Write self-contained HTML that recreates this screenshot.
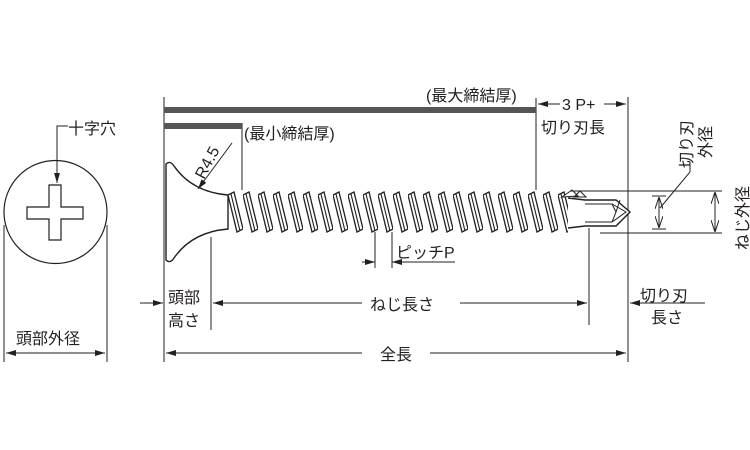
<!DOCTYPE html>
<html><head><meta charset="utf-8"><style>
html,body{margin:0;padding:0;background:#fff;}
svg{display:block;}
text{font-family:"Liberation Sans","Noto Sans CJK JP",sans-serif;fill:#231f20;font-size:16px;}
</style></head><body>
<svg width="750" height="450" viewBox="0 0 750 450" xmlns="http://www.w3.org/2000/svg">
<defs>
<marker id="a" viewBox="0 0 10 6" refX="10" refY="3" markerWidth="10" markerHeight="6" markerUnits="userSpaceOnUse" orient="auto"><path d="M0,0 L10,3 L0,6 z" fill="#231f20"/></marker>
<marker id="b" viewBox="0 0 12 8" refX="12" refY="4" markerWidth="12" markerHeight="8" markerUnits="userSpaceOnUse" orient="auto"><path d="M0,0 L12,4 L0,8" fill="none" stroke="#231f20" stroke-width="1"/></marker>
<pattern id="th" width="15" height="42" patternUnits="userSpaceOnUse" patternTransform="translate(228,191)">
<path d="M0,4 L6,1 L15,38 L9,41 Z" fill="#fff" stroke="#231f20" stroke-width="1.3"/>
<path d="M3,3 L12,40" stroke="#231f20" stroke-width="1.1"/>
</pattern>
</defs>
<g stroke="#231f20" fill="none" stroke-width="1.2">
<circle cx="55.5" cy="212" r="51.5"/>
<path d="M49,185 H61 V207 H83 V219 H61 V240 H49 V219 H27 V207 H49 Z"/>
</g>
<g stroke="#231f20" fill="none" stroke-width="1">
<path d="M68,126 H57 V183" marker-end="url(#a)"/>
<line x1="4" y1="225" x2="4" y2="362"/>
<line x1="107" y1="225" x2="107" y2="362"/>
<line x1="30" y1="353" x2="6" y2="353" marker-end="url(#a)"/>
<line x1="80" y1="353" x2="105" y2="353" marker-end="url(#a)"/>
<line x1="30" y1="353" x2="80" y2="353"/>
<line x1="164" y1="97" x2="164" y2="362"/>
<line x1="628" y1="97" x2="628" y2="362"/>
<line x1="242" y1="123" x2="242" y2="190"/>
<line x1="536" y1="98" x2="536" y2="190"/>
<line x1="211" y1="237" x2="211" y2="330"/>
<line x1="589" y1="228" x2="589" y2="325"/>
</g>
<rect x="164" y="107" width="372" height="6" fill="#555"/>
<rect x="164" y="123" width="78" height="6" fill="#555"/>

<g stroke="#231f20" fill="#fff" stroke-width="1.4">
<path d="M166,164 Q170,160 174,166 Q192,192 228,195 L228,229 Q192,232 174,258 Q170,264 166,260 Z"/>
<rect x="228" y="191" width="340" height="42" fill="url(#th)" stroke="none"/>
<path d="M568,198 L585,200 L616,200 L630,212 L616,226 L585,226 L568,228" fill="#fff"/>
<path d="M585,204 H612 L626,212 L612,222 H585 M612,204 L616,212 L612,222 M620,200 L616,212" fill="none" stroke-width="1"/>
<path d="M562,197 L572,190 L578,196 Z M574,197 L580,191 L586,197 Z" stroke-width="1"/>
</g>

<g stroke="#231f20" fill="none" stroke-width="1">
<line x1="232" y1="143" x2="198" y2="189" marker-end="url(#a)"/>
<line x1="570" y1="191" x2="722" y2="191"/>
<line x1="600" y1="233" x2="722" y2="233"/>
<line x1="652" y1="196" x2="666" y2="196"/>
<line x1="652" y1="229" x2="666" y2="229"/>
<line x1="715" y1="212" x2="715" y2="192" marker-end="url(#b)"/>
<line x1="715" y1="212" x2="715" y2="232" marker-end="url(#b)"/>
<line x1="659" y1="212" x2="659" y2="197" marker-end="url(#b)"/>
<line x1="659" y1="212" x2="659" y2="228" marker-end="url(#b)"/>
<path d="M660,208 L690,172 V162"/>
<line x1="560" y1="104" x2="538" y2="104" marker-end="url(#a)"/>
<line x1="604" y1="104" x2="626" y2="104" marker-end="url(#a)"/>
<line x1="375" y1="232" x2="375" y2="268"/>
<line x1="392" y1="232" x2="392" y2="268"/>
<line x1="362" y1="262" x2="375" y2="262" marker-end="url(#a)"/>
<line x1="455" y1="262" x2="392" y2="262" marker-end="url(#a)"/>
<line x1="140" y1="303" x2="163" y2="303" marker-end="url(#a)"/>
<line x1="362" y1="303" x2="213" y2="303" marker-end="url(#a)"/>
<line x1="460" y1="303" x2="587" y2="303" marker-end="url(#a)"/>
<line x1="705" y1="303" x2="630" y2="303" marker-end="url(#a)"/>
<line x1="362" y1="353" x2="166" y2="353" marker-end="url(#a)"/>
<line x1="430" y1="353" x2="626" y2="353" marker-end="url(#a)"/>
</g>

<text x="68" y="134" font-size="18">十字穴</text>
<text x="16" y="344" font-size="18">頭部外径</text>
<text x="426" y="101" font-size="16">(最大締結厚)</text>
<text x="244" y="139" font-size="16">(最小締結厚)</text>
<text transform="translate(204,180) rotate(-62)" font-size="16">R4.5</text>
<text x="562" y="110" font-size="17">3 P+</text>
<text x="541" y="133" font-size="17">切り刃長</text>
<text transform="translate(692,168) rotate(-90)" font-size="17">切り刃</text>
<text transform="translate(711,158) rotate(-90)" font-size="17">外径</text>
<text transform="translate(748,250) rotate(-90)" font-size="17">ねじ外径</text>
<text x="396" y="258" font-size="17">ピッチP</text>
<text x="168" y="303" font-size="17">頭部</text>
<text x="168" y="326" font-size="17">高さ</text>
<text x="370" y="310" font-size="18">ねじ長さ</text>
<text x="640" y="301" font-size="17">切り刃</text>
<text x="651" y="323" font-size="17">長さ</text>
<text x="380" y="360" font-size="18">全長</text>
</svg>
</body></html>
